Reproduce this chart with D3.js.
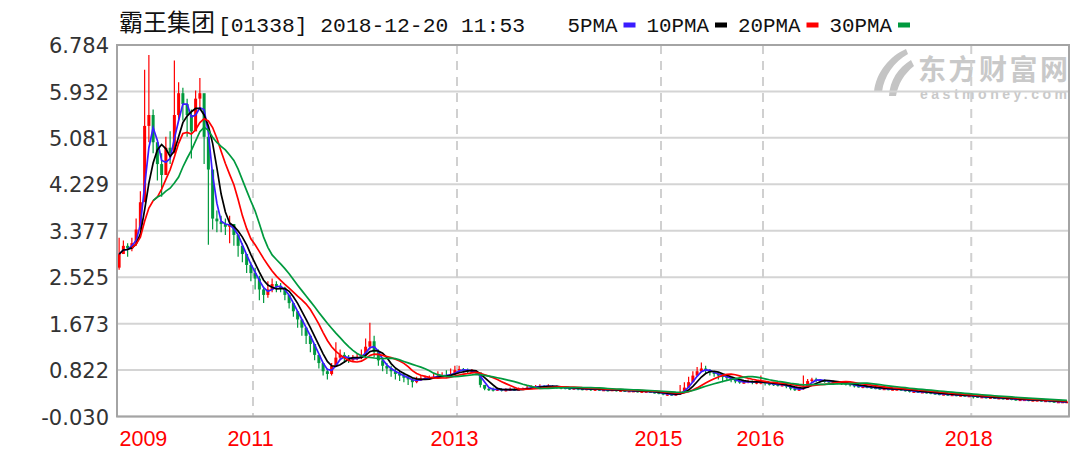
<!DOCTYPE html>
<html>
<head>
<meta charset="utf-8">
<script src="https://cdn.jsdelivr.net/npm/d3@7"></script>
<style>
  body { margin: 0; background: #fff; }
</style>
</head>
<body>
<script>
// half-month bars, Sep 2009 -> Dec 2018
const closes = [
  2.95,3.1,3.05,3.15,3.4,3.9,5.3,5.5,5.0,4.6,
  4.4,4.9,4.8,5.5,5.9,5.7,5.5,5.2,5.8,5.9,
  5.1,4.5,3.6,3.55,3.5,3.45,3.5,3.3,3.1,2.95,
  2.75,2.6,2.5,2.3,2.2,2.3,2.4,2.35,2.33,2.2,
  2.05,1.9,1.75,1.6,1.45,1.3,1.1,0.95,0.8,0.75,
  0.9,1.05,1.1,1.05,1.0,1.05,1.05,1.1,1.25,1.35,
  1.15,1.0,0.9,0.85,0.8,0.75,0.72,0.68,0.65,0.6,
  0.65,0.67,0.68,0.68,0.7,0.72,0.73,0.72,0.75,0.82,
  0.84,0.82,0.8,0.8,0.78,0.55,0.48,0.47,0.46,0.47,
  0.46,0.46,0.47,0.46,0.47,0.48,0.5,0.51,0.52,0.53,
  0.52,0.53,0.52,0.51,0.5,0.49,0.48,0.49,0.48,0.47,
  0.48,0.47,0.47,0.46,0.46,0.45,0.46,0.45,0.45,0.44,
  0.44,0.44,0.43,0.43,0.43,0.42,0.41,0.4,0.38,0.38,
  0.37,0.38,0.42,0.5,0.6,0.72,0.8,0.85,0.82,0.78,
  0.75,0.72,0.7,0.68,0.64,0.62,0.6,0.6,0.62,0.6,
  0.6,0.6,0.58,0.57,0.56,0.55,0.55,0.52,0.48,0.47,
  0.47,0.5,0.62,0.65,0.64,0.63,0.62,0.61,0.6,0.59,
  0.58,0.57,0.55,0.53,0.52,0.52,0.51,0.5,0.49,0.48,
  0.48,0.47,0.47,0.47,0.46,0.45,0.43,0.43,0.42,0.42,
  0.41,0.4,0.39,0.38,0.38,0.37,0.37,0.36,0.36,0.35,
  0.35,0.34,0.33,0.33,0.32,0.32,0.31,0.31,0.3,0.3,
  0.29,0.28,0.28,0.28,0.27,0.27,0.27,0.26,0.26,0.25,
  0.24,0.24,0.24,0.24
];
const highs = [
  3.25,3.2,3.15,3.25,3.6,4.1,6.33,6.6,5.6,5.0,
  4.8,5.1,5.2,6.5,6.1,6.0,5.8,5.6,5.95,6.18,
  5.8,5.0,4.3,3.75,3.65,3.6,3.65,3.5,3.3,3.15,
  2.95,2.8,2.7,2.55,2.35,2.45,2.5,2.45,2.42,2.35,
  2.2,2.05,1.9,1.75,1.6,1.45,1.3,1.1,0.95,0.85,
  0.95,1.33,1.2,1.15,1.1,1.1,1.12,1.2,1.4,1.69,
  1.45,1.2,1.05,0.95,0.9,0.85,0.8,0.78,0.72,0.68,
  0.7,0.72,0.72,0.72,0.75,0.8,0.78,0.82,0.85,0.9,
  0.9,0.86,0.85,0.84,0.82,0.75,0.55,0.5,0.5,0.5,
  0.49,0.49,0.5,0.49,0.5,0.5,0.53,0.54,0.55,0.56,
  0.55,0.56,0.55,0.54,0.52,0.52,0.51,0.51,0.5,0.49,
  0.5,0.49,0.49,0.48,0.48,0.48,0.48,0.47,0.47,0.46,
  0.46,0.46,0.45,0.45,0.45,0.44,0.43,0.42,0.41,0.4,
  0.4,0.4,0.55,0.6,0.7,0.8,0.88,0.96,0.9,0.84,
  0.8,0.76,0.74,0.72,0.7,0.66,0.64,0.63,0.65,0.63,
  0.63,0.72,0.62,0.6,0.59,0.58,0.58,0.56,0.52,0.5,
  0.5,0.72,0.66,0.68,0.68,0.66,0.65,0.64,0.63,0.62,
  0.61,0.6,0.58,0.56,0.55,0.54,0.54,0.53,0.56,0.5,
  0.5,0.49,0.49,0.49,0.48,0.47,0.45,0.45,0.44,0.44,
  0.43,0.42,0.41,0.4,0.4,0.39,0.39,0.38,0.38,0.37,
  0.37,0.36,0.35,0.35,0.34,0.34,0.33,0.33,0.32,0.32,
  0.31,0.3,0.3,0.3,0.29,0.29,0.29,0.28,0.28,0.27,
  0.26,0.26,0.26,0.26
];
const lows = [
  2.66,2.95,2.9,3.0,3.1,3.5,4.0,5.0,4.8,4.3,
  4.0,4.4,4.6,4.8,5.4,5.4,5.1,4.7,5.4,5.6,
  4.6,3.12,3.4,3.35,3.35,3.3,3.15,3.1,2.9,2.8,
  2.6,2.45,2.3,2.1,2.05,2.15,2.25,2.25,2.25,2.1,
  1.95,1.8,1.6,1.45,1.3,1.15,1.0,0.85,0.72,0.65,
  0.72,0.95,1.0,0.95,0.95,0.98,1.0,1.02,1.1,1.2,
  1.05,0.9,0.8,0.75,0.7,0.65,0.62,0.6,0.55,0.5,
  0.58,0.62,0.64,0.64,0.66,0.68,0.7,0.68,0.7,0.75,
  0.8,0.78,0.77,0.77,0.74,0.5,0.45,0.44,0.43,0.44,
  0.43,0.43,0.44,0.44,0.45,0.46,0.47,0.48,0.49,0.5,
  0.5,0.5,0.49,0.48,0.47,0.47,0.46,0.46,0.45,0.45,
  0.45,0.44,0.44,0.44,0.44,0.43,0.44,0.43,0.43,0.42,
  0.42,0.42,0.41,0.41,0.41,0.4,0.39,0.38,0.36,0.35,
  0.35,0.35,0.37,0.45,0.52,0.6,0.7,0.78,0.76,0.72,
  0.7,0.65,0.6,0.62,0.6,0.58,0.57,0.57,0.58,0.56,
  0.56,0.56,0.54,0.54,0.53,0.52,0.52,0.49,0.45,0.44,
  0.44,0.46,0.5,0.58,0.6,0.6,0.59,0.58,0.57,0.56,
  0.55,0.54,0.52,0.5,0.5,0.49,0.49,0.48,0.47,0.46,
  0.46,0.45,0.45,0.45,0.44,0.43,0.41,0.41,0.4,0.4,
  0.39,0.38,0.37,0.36,0.36,0.35,0.35,0.34,0.34,0.33,
  0.33,0.3,0.31,0.31,0.3,0.3,0.29,0.29,0.28,0.28,
  0.27,0.26,0.26,0.26,0.25,0.25,0.25,0.24,0.24,0.23,
  0.22,0.22,0.22,0.22
];
const firstOpen = 2.7;

const yTicks = [-0.030, 0.822, 1.673, 2.525, 3.377, 4.229, 5.081, 5.932, 6.784];
const yearLabels = ['2009', '2011', '2013', '2015', '2016', '2018'];
const yearSlots = [0, 32, 80, 128, 152, 201];

const maNames = ['5PMA', '10PMA', '20PMA', '30PMA'];
const maColors = ['#3a1cff', '#000000', '#ff0000', '#009a3e'];
const maWindows = [3, 5, 10, 15];
const maStart = [0, 0, 3, 8];

const titleName = '霸王集团';
const titleRest = '[01338] 2018-12-20 11:53';

const W = 1080, H = 450;
const pLeft = 117, pRight = 1069, pTop = 45, pBottom = 416.5;
const upColor = '#ff0000', downColor = '#009a3e';

const svg = d3.select('body').append('svg').attr('width', W).attr('height', H);

const x = d3.scaleLinear().domain([0, closes.length]).range([pLeft, pRight]);
const y = d3.scaleLinear().domain([yTicks[0], yTicks[yTicks.length - 1]]).range([pBottom, pTop]);

// watermark
const wm = svg.append('g').attr('fill', '#c9c9c9');
wm.append('path')
  .attr('d', 'M906 49 C890 56 876 72 874 92 L882 92 C884 76 894 62 908 54 Z M911 60 C898 68 890 80 889 96 L896 96 C898 84 904 74 914 66 Z')
  .attr('fill', '#c4c4c4');
wm.append('text').attr('x', 918).attr('y', 80)
  .attr('font-family', 'Noto Sans CJK SC').attr('font-weight', 'bold').attr('font-size', 28)
  .attr('textLength', 150).text('东方财富网');
wm.append('text').attr('x', 920).attr('y', 99)
  .attr('font-family', 'Liberation Sans').attr('font-weight', 'bold').attr('font-size', 14)
  .attr('textLength', 147).text('eastmoney.com');

// horizontal grid
svg.append('g').selectAll('line').data(yTicks).enter().append('line')
  .attr('x1', pLeft).attr('x2', pRight)
  .attr('y1', d => y(d)).attr('y2', d => y(d))
  .attr('stroke', '#d4d4d4').attr('stroke-width', 2);

// vertical dashed year lines
svg.append('g').selectAll('line').data(yearSlots.slice(1)).enter().append('line')
  .attr('x1', d => x(d)).attr('x2', d => x(d))
  .attr('y1', pTop).attr('y2', pBottom)
  .attr('stroke', '#d0d0d0').attr('stroke-width', 2).attr('stroke-dasharray', '9,7');

// candles
const opens = closes.map((c, i) => i === 0 ? firstOpen : closes[i - 1]);
const bars = svg.append('g').selectAll('g').data(closes).enter().append('g');
bars.append('line')
  .attr('x1', (d, i) => x(i + 0.5)).attr('x2', (d, i) => x(i + 0.5))
  .attr('y1', (d, i) => y(highs[i])).attr('y2', (d, i) => y(lows[i]))
  .attr('stroke', (d, i) => d >= opens[i] ? upColor : downColor).attr('stroke-width', 1.2);
bars.append('rect')
  .attr('x', (d, i) => x(i + 0.5) - 1.5).attr('width', 3)
  .attr('y', (d, i) => y(Math.max(d, opens[i])))
  .attr('height', (d, i) => Math.max(1.5, Math.abs(y(d) - y(opens[i]))))
  .attr('fill', (d, i) => d >= opens[i] ? upColor : downColor);

// moving averages
maWindows.forEach((w, k) => {
  const ma = closes.map((c, i) => d3.mean(closes.slice(Math.max(0, i - w + 1), i + 1)));
  const line = d3.line()
    .defined((d, i) => i >= maStart[k])
    .x((d, i) => x(i + 0.5)).y(d => y(d));
  svg.append('path').datum(ma)
    .attr('d', line).attr('fill', 'none')
    .attr('stroke', maColors[k]).attr('stroke-width', 1.7);
});

// frame
svg.append('rect').attr('x', pLeft).attr('y', pTop)
  .attr('width', pRight - pLeft).attr('height', pBottom - pTop)
  .attr('fill', 'none').attr('stroke', '#a4a4a4').attr('stroke-width', 2);

// y axis labels
const yAxis = d3.axisLeft(y).tickValues(yTicks).tickSize(0).tickPadding(8)
  .tickFormat(d => d.toFixed(3));
const ya = svg.append('g').attr('transform', `translate(${pLeft},0)`).call(yAxis);
ya.select('.domain').remove();
ya.selectAll('text').attr('font-family', 'DejaVu Sans').attr('font-size', 21)
  .attr('fill', '#333').attr('dy', '0.36em');

// x axis labels
const xAxis = d3.axisBottom(x).tickValues(yearSlots).tickSize(0).tickPadding(0)
  .tickFormat((d, i) => yearLabels[i]);
const xa = svg.append('g').attr('transform', `translate(0,${pBottom})`).call(xAxis);
xa.select('.domain').remove();
xa.selectAll('text').attr('font-family', 'Liberation Sans').attr('font-size', 21.5)
  .attr('fill', '#ff0000').attr('y', 0).attr('dy', 0)
  .attr('transform', 'translate(-3,29)')
  .attr('text-anchor', (d, i) => i === 0 ? 'start' : 'middle')
  .attr('dx', (d, i) => i === 0 ? 5 : 0);

// title
const title = svg.append('text').attr('y', 31).attr('fill', '#111');
title.append('tspan').attr('x', 119).attr('font-family', 'Noto Sans CJK SC').attr('font-size', 24)
  .text(titleName);
title.append('tspan').attr('x', 218).attr('y', 32).attr('font-family', 'Liberation Mono').attr('font-size', 21)
  .attr('textLength', 307).attr('lengthAdjust', 'spacingAndGlyphs').text(titleRest);

// legend
let cx = 567.5;
const legend = svg.append('g');
maNames.forEach((name, k) => {
  const tw = name.length * 12.5;
  legend.append('text').attr('x', cx).attr('y', 32)
    .attr('font-family', 'Liberation Mono').attr('font-size', 21).attr('fill', '#111')
    .attr('textLength', tw).attr('lengthAdjust', 'spacingAndGlyphs').text(name);
  cx += tw + 6;
  legend.append('rect').attr('x', cx).attr('y', 22.5).attr('width', 12).attr('height', 5)
    .attr('fill', maColors[k]);
  cx += 12 + 11;
});
</script>
</body>
</html>
